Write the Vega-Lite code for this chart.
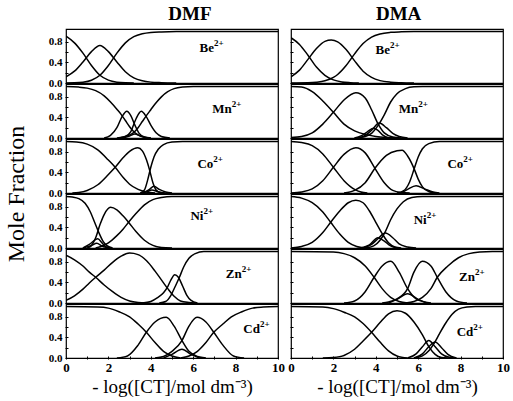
{
"$schema":"https://vega.github.io/schema/vega-lite/v6.json",
"padding":{"left":4,"top":5,"right":5,"bottom":3},
"data":{"values":[
{"s":"DMF","m":"Be","k":"a","x":0,"y":0.91},{"s":"DMF","m":"Be","k":"a","x":0.4,"y":0.78},{"s":"DMF","m":"Be","k":"a","x":0.8,"y":0.58},{"s":"DMF","m":"Be","k":"a","x":1.2,"y":0.34},{"s":"DMF","m":"Be","k":"a","x":1.6,"y":0.15},{"s":"DMF","m":"Be","k":"a","x":2.0,"y":0.055},{"s":"DMF","m":"Be","k":"a","x":2.4,"y":0.015},{"s":"DMF","m":"Be","k":"a","x":2.8,"y":0.003},{"s":"DMF","m":"Be","k":"a","x":3.2,"y":0},
{"s":"DMF","m":"Be","k":"b","x":0,"y":0.12},{"s":"DMF","m":"Be","k":"b","x":0.4,"y":0.23},{"s":"DMF","m":"Be","k":"b","x":0.8,"y":0.41},{"s":"DMF","m":"Be","k":"b","x":1.2,"y":0.61},{"s":"DMF","m":"Be","k":"b","x":1.6,"y":0.73},{"s":"DMF","m":"Be","k":"b","x":2.0,"y":0.61},{"s":"DMF","m":"Be","k":"b","x":2.4,"y":0.41},{"s":"DMF","m":"Be","k":"b","x":2.8,"y":0.22},{"s":"DMF","m":"Be","k":"b","x":3.2,"y":0.1},{"s":"DMF","m":"Be","k":"b","x":3.6,"y":0.043},{"s":"DMF","m":"Be","k":"b","x":4.0,"y":0.017},{"s":"DMF","m":"Be","k":"b","x":4.5,"y":0.006},{"s":"DMF","m":"Be","k":"b","x":5.2,"y":0},
{"s":"DMF","m":"Be","k":"c","x":0,"y":0},{"s":"DMF","m":"Be","k":"c","x":0.4,"y":0.003},{"s":"DMF","m":"Be","k":"c","x":0.8,"y":0.015},{"s":"DMF","m":"Be","k":"c","x":1.2,"y":0.054},{"s":"DMF","m":"Be","k":"c","x":1.6,"y":0.15},{"s":"DMF","m":"Be","k":"c","x":2.0,"y":0.34},{"s":"DMF","m":"Be","k":"c","x":2.4,"y":0.58},{"s":"DMF","m":"Be","k":"c","x":2.8,"y":0.78},{"s":"DMF","m":"Be","k":"c","x":3.2,"y":0.9},{"s":"DMF","m":"Be","k":"c","x":3.6,"y":0.957},{"s":"DMF","m":"Be","k":"c","x":4.0,"y":0.983},{"s":"DMF","m":"Be","k":"c","x":4.5,"y":0.994},{"s":"DMF","m":"Be","k":"c","x":5.2,"y":1},{"s":"DMF","m":"Be","k":"c","x":10,"y":1},
{"s":"DMF","m":"Be","k":"L","x":6.98,"y":0.68},
{"s":"DMA","m":"Be","k":"a","x":0,"y":0.88},{"s":"DMA","m":"Be","k":"a","x":0.4,"y":0.75},{"s":"DMA","m":"Be","k":"a","x":0.8,"y":0.54},{"s":"DMA","m":"Be","k":"a","x":1.2,"y":0.31},{"s":"DMA","m":"Be","k":"a","x":1.6,"y":0.15},{"s":"DMA","m":"Be","k":"a","x":2.0,"y":0.06},{"s":"DMA","m":"Be","k":"a","x":2.4,"y":0.02},{"s":"DMA","m":"Be","k":"a","x":2.8,"y":0.006},{"s":"DMA","m":"Be","k":"a","x":3.2,"y":0},
{"s":"DMA","m":"Be","k":"b","x":0,"y":0.12},{"s":"DMA","m":"Be","k":"b","x":0.4,"y":0.25},{"s":"DMA","m":"Be","k":"b","x":0.8,"y":0.46},{"s":"DMA","m":"Be","k":"b","x":1.2,"y":0.67},{"s":"DMA","m":"Be","k":"b","x":1.6,"y":0.81},{"s":"DMA","m":"Be","k":"b","x":1.9,"y":0.835},{"s":"DMA","m":"Be","k":"b","x":2.2,"y":0.8},{"s":"DMA","m":"Be","k":"b","x":2.6,"y":0.65},{"s":"DMA","m":"Be","k":"b","x":3.0,"y":0.43},{"s":"DMA","m":"Be","k":"b","x":3.4,"y":0.23},{"s":"DMA","m":"Be","k":"b","x":3.8,"y":0.11},{"s":"DMA","m":"Be","k":"b","x":4.2,"y":0.046},{"s":"DMA","m":"Be","k":"b","x":4.7,"y":0.015},{"s":"DMA","m":"Be","k":"b","x":5.2,"y":0.005},{"s":"DMA","m":"Be","k":"b","x":5.8,"y":0},
{"s":"DMA","m":"Be","k":"c","x":0,"y":0},{"s":"DMA","m":"Be","k":"c","x":0.8,"y":0.004},{"s":"DMA","m":"Be","k":"c","x":1.2,"y":0.014},{"s":"DMA","m":"Be","k":"c","x":1.6,"y":0.042},{"s":"DMA","m":"Be","k":"c","x":2.0,"y":0.11},{"s":"DMA","m":"Be","k":"c","x":2.2,"y":0.166},{"s":"DMA","m":"Be","k":"c","x":2.6,"y":0.34},{"s":"DMA","m":"Be","k":"c","x":3.0,"y":0.567},{"s":"DMA","m":"Be","k":"c","x":3.4,"y":0.767},{"s":"DMA","m":"Be","k":"c","x":3.8,"y":0.893},{"s":"DMA","m":"Be","k":"c","x":4.2,"y":0.954},{"s":"DMA","m":"Be","k":"c","x":4.7,"y":0.985},{"s":"DMA","m":"Be","k":"c","x":5.2,"y":0.995},{"s":"DMA","m":"Be","k":"c","x":5.8,"y":1},{"s":"DMA","m":"Be","k":"c","x":10,"y":1},
{"s":"DMA","m":"Be","k":"L","x":4.67,"y":0.64},
{"s":"DMF","m":"Mn","k":"a","x":0,"y":1},{"s":"DMF","m":"Mn","k":"a","x":0.6,"y":0.99},{"s":"DMF","m":"Mn","k":"a","x":1.0,"y":0.97},{"s":"DMF","m":"Mn","k":"a","x":1.4,"y":0.92},{"s":"DMF","m":"Mn","k":"a","x":1.8,"y":0.82},{"s":"DMF","m":"Mn","k":"a","x":2.1,"y":0.7},{"s":"DMF","m":"Mn","k":"a","x":2.4,"y":0.56},{"s":"DMF","m":"Mn","k":"a","x":2.6,"y":0.46},{"s":"DMF","m":"Mn","k":"a","x":2.8,"y":0.34},{"s":"DMF","m":"Mn","k":"a","x":3.0,"y":0.22},{"s":"DMF","m":"Mn","k":"a","x":3.2,"y":0.12},{"s":"DMF","m":"Mn","k":"a","x":3.4,"y":0.06},{"s":"DMF","m":"Mn","k":"a","x":3.7,"y":0.015},{"s":"DMF","m":"Mn","k":"a","x":4.0,"y":0},
{"s":"DMF","m":"Mn","k":"b","x":1.8,"y":0},{"s":"DMF","m":"Mn","k":"b","x":2.1,"y":0.05},{"s":"DMF","m":"Mn","k":"b","x":2.4,"y":0.2},{"s":"DMF","m":"Mn","k":"b","x":2.65,"y":0.42},{"s":"DMF","m":"Mn","k":"b","x":2.87,"y":0.52},{"s":"DMF","m":"Mn","k":"b","x":3.05,"y":0.44},{"s":"DMF","m":"Mn","k":"b","x":3.25,"y":0.25},{"s":"DMF","m":"Mn","k":"b","x":3.45,"y":0.09},{"s":"DMF","m":"Mn","k":"b","x":3.7,"y":0.02},{"s":"DMF","m":"Mn","k":"b","x":4.0,"y":0},
{"s":"DMF","m":"Mn","k":"c","x":2.5,"y":0},{"s":"DMF","m":"Mn","k":"c","x":2.8,"y":0.03},{"s":"DMF","m":"Mn","k":"c","x":3.05,"y":0.12},{"s":"DMF","m":"Mn","k":"c","x":3.3,"y":0.37},{"s":"DMF","m":"Mn","k":"c","x":3.55,"y":0.52},{"s":"DMF","m":"Mn","k":"c","x":3.78,"y":0.42},{"s":"DMF","m":"Mn","k":"c","x":4.0,"y":0.25},{"s":"DMF","m":"Mn","k":"c","x":4.25,"y":0.1},{"s":"DMF","m":"Mn","k":"c","x":4.5,"y":0.03},{"s":"DMF","m":"Mn","k":"c","x":4.9,"y":0},
{"s":"DMF","m":"Mn","k":"d","x":2.4,"y":0},{"s":"DMF","m":"Mn","k":"d","x":2.7,"y":0.02},{"s":"DMF","m":"Mn","k":"d","x":3.0,"y":0.06},{"s":"DMF","m":"Mn","k":"d","x":3.2,"y":0.11},{"s":"DMF","m":"Mn","k":"d","x":3.4,"y":0.2},{"s":"DMF","m":"Mn","k":"d","x":3.6,"y":0.32},{"s":"DMF","m":"Mn","k":"d","x":3.8,"y":0.44},{"s":"DMF","m":"Mn","k":"d","x":4.0,"y":0.55},{"s":"DMF","m":"Mn","k":"d","x":4.2,"y":0.66},{"s":"DMF","m":"Mn","k":"d","x":4.5,"y":0.8},{"s":"DMF","m":"Mn","k":"d","x":4.8,"y":0.9},{"s":"DMF","m":"Mn","k":"d","x":5.1,"y":0.96},{"s":"DMF","m":"Mn","k":"d","x":5.5,"y":0.99},{"s":"DMF","m":"Mn","k":"d","x":6.0,"y":1},{"s":"DMF","m":"Mn","k":"d","x":10,"y":1},
{"s":"DMF","m":"Mn","k":"e","x":2.7,"y":0},{"s":"DMF","m":"Mn","k":"e","x":3.0,"y":0.04},{"s":"DMF","m":"Mn","k":"e","x":3.25,"y":0.08},{"s":"DMF","m":"Mn","k":"e","x":3.5,"y":0.04},{"s":"DMF","m":"Mn","k":"e","x":3.8,"y":0},
{"s":"DMF","m":"Mn","k":"L","x":7.82,"y":0.57},
{"s":"DMA","m":"Mn","k":"a","x":0,"y":1},{"s":"DMA","m":"Mn","k":"a","x":0.5,"y":0.99},{"s":"DMA","m":"Mn","k":"a","x":1.0,"y":0.9},{"s":"DMA","m":"Mn","k":"a","x":1.5,"y":0.72},{"s":"DMA","m":"Mn","k":"a","x":2.0,"y":0.5},{"s":"DMA","m":"Mn","k":"a","x":2.5,"y":0.27},{"s":"DMA","m":"Mn","k":"a","x":3.0,"y":0.14},{"s":"DMA","m":"Mn","k":"a","x":3.5,"y":0.07},{"s":"DMA","m":"Mn","k":"a","x":4.0,"y":0.03},{"s":"DMA","m":"Mn","k":"a","x":4.5,"y":0.01},{"s":"DMA","m":"Mn","k":"a","x":5.0,"y":0},
{"s":"DMA","m":"Mn","k":"b","x":0,"y":0.01},{"s":"DMA","m":"Mn","k":"b","x":0.5,"y":0.03},{"s":"DMA","m":"Mn","k":"b","x":1.0,"y":0.1},{"s":"DMA","m":"Mn","k":"b","x":1.5,"y":0.27},{"s":"DMA","m":"Mn","k":"b","x":2.0,"y":0.5},{"s":"DMA","m":"Mn","k":"b","x":2.5,"y":0.74},{"s":"DMA","m":"Mn","k":"b","x":3.06,"y":0.88},{"s":"DMA","m":"Mn","k":"b","x":3.5,"y":0.78},{"s":"DMA","m":"Mn","k":"b","x":3.8,"y":0.55},{"s":"DMA","m":"Mn","k":"b","x":4.1,"y":0.28},{"s":"DMA","m":"Mn","k":"b","x":4.4,"y":0.1},{"s":"DMA","m":"Mn","k":"b","x":4.8,"y":0.02},{"s":"DMA","m":"Mn","k":"b","x":5.2,"y":0},
{"s":"DMA","m":"Mn","k":"c","x":3.0,"y":0},{"s":"DMA","m":"Mn","k":"c","x":3.5,"y":0.03},{"s":"DMA","m":"Mn","k":"c","x":3.8,"y":0.09},{"s":"DMA","m":"Mn","k":"c","x":4.1,"y":0.24},{"s":"DMA","m":"Mn","k":"c","x":4.4,"y":0.45},{"s":"DMA","m":"Mn","k":"c","x":4.7,"y":0.7},{"s":"DMA","m":"Mn","k":"c","x":5.0,"y":0.86},{"s":"DMA","m":"Mn","k":"c","x":5.4,"y":0.96},{"s":"DMA","m":"Mn","k":"c","x":5.8,"y":0.995},{"s":"DMA","m":"Mn","k":"c","x":6.2,"y":1},{"s":"DMA","m":"Mn","k":"c","x":10,"y":1},
{"s":"DMA","m":"Mn","k":"d","x":3.2,"y":0},{"s":"DMA","m":"Mn","k":"d","x":3.5,"y":0.05},{"s":"DMA","m":"Mn","k":"d","x":3.8,"y":0.15},{"s":"DMA","m":"Mn","k":"d","x":4.16,"y":0.29},{"s":"DMA","m":"Mn","k":"d","x":4.5,"y":0.2},{"s":"DMA","m":"Mn","k":"d","x":4.8,"y":0.09},{"s":"DMA","m":"Mn","k":"d","x":5.1,"y":0.03},{"s":"DMA","m":"Mn","k":"d","x":5.5,"y":0},
{"s":"DMA","m":"Mn","k":"e","x":3.0,"y":0},{"s":"DMA","m":"Mn","k":"e","x":3.3,"y":0.04},{"s":"DMA","m":"Mn","k":"e","x":3.6,"y":0.12},{"s":"DMA","m":"Mn","k":"e","x":3.9,"y":0.19},{"s":"DMA","m":"Mn","k":"e","x":4.1,"y":0.15},{"s":"DMA","m":"Mn","k":"e","x":4.35,"y":0.05},{"s":"DMA","m":"Mn","k":"e","x":4.6,"y":0},
{"s":"DMA","m":"Mn","k":"L","x":6.0,"y":0.57},
{"s":"DMF","m":"Co","k":"a","x":0,"y":1},{"s":"DMF","m":"Co","k":"a","x":0.5,"y":0.99},{"s":"DMF","m":"Co","k":"a","x":1.0,"y":0.95},{"s":"DMF","m":"Co","k":"a","x":1.5,"y":0.84},{"s":"DMF","m":"Co","k":"a","x":2.0,"y":0.64},{"s":"DMF","m":"Co","k":"a","x":2.32,"y":0.5},{"s":"DMF","m":"Co","k":"a","x":2.7,"y":0.3},{"s":"DMF","m":"Co","k":"a","x":3.0,"y":0.17},{"s":"DMF","m":"Co","k":"a","x":3.4,"y":0.07},{"s":"DMF","m":"Co","k":"a","x":3.8,"y":0.02},{"s":"DMF","m":"Co","k":"a","x":4.2,"y":0},
{"s":"DMF","m":"Co","k":"b","x":0.3,"y":0},{"s":"DMF","m":"Co","k":"b","x":0.6,"y":0.01},{"s":"DMF","m":"Co","k":"b","x":1.0,"y":0.05},{"s":"DMF","m":"Co","k":"b","x":1.5,"y":0.16},{"s":"DMF","m":"Co","k":"b","x":2.0,"y":0.36},{"s":"DMF","m":"Co","k":"b","x":2.32,"y":0.5},{"s":"DMF","m":"Co","k":"b","x":2.7,"y":0.69},{"s":"DMF","m":"Co","k":"b","x":3.0,"y":0.81},{"s":"DMF","m":"Co","k":"b","x":3.39,"y":0.88},{"s":"DMF","m":"Co","k":"b","x":3.6,"y":0.82},{"s":"DMF","m":"Co","k":"b","x":3.8,"y":0.64},{"s":"DMF","m":"Co","k":"b","x":3.94,"y":0.45},{"s":"DMF","m":"Co","k":"b","x":4.1,"y":0.2},{"s":"DMF","m":"Co","k":"b","x":4.25,"y":0.06},{"s":"DMF","m":"Co","k":"b","x":4.45,"y":0.01},{"s":"DMF","m":"Co","k":"b","x":4.7,"y":0},
{"s":"DMF","m":"Co","k":"c","x":3.5,"y":0},{"s":"DMF","m":"Co","k":"c","x":3.7,"y":0.06},{"s":"DMF","m":"Co","k":"c","x":3.85,"y":0.25},{"s":"DMF","m":"Co","k":"c","x":4.0,"y":0.5},{"s":"DMF","m":"Co","k":"c","x":4.15,"y":0.7},{"s":"DMF","m":"Co","k":"c","x":4.35,"y":0.85},{"s":"DMF","m":"Co","k":"c","x":4.6,"y":0.94},{"s":"DMF","m":"Co","k":"c","x":5.0,"y":0.99},{"s":"DMF","m":"Co","k":"c","x":5.5,"y":1},{"s":"DMF","m":"Co","k":"c","x":10,"y":1},
{"s":"DMF","m":"Co","k":"d","x":3.6,"y":0},{"s":"DMF","m":"Co","k":"d","x":3.9,"y":0.06},{"s":"DMF","m":"Co","k":"d","x":4.15,"y":0.13},{"s":"DMF","m":"Co","k":"d","x":4.4,"y":0.07},{"s":"DMF","m":"Co","k":"d","x":4.7,"y":0.02},{"s":"DMF","m":"Co","k":"d","x":5.0,"y":0},
{"s":"DMF","m":"Co","k":"e","x":3.6,"y":0},{"s":"DMF","m":"Co","k":"e","x":3.85,"y":0.03},{"s":"DMF","m":"Co","k":"e","x":4.05,"y":0.06},{"s":"DMF","m":"Co","k":"e","x":4.3,"y":0.03},{"s":"DMF","m":"Co","k":"e","x":4.6,"y":0},
{"s":"DMF","m":"Co","k":"L","x":6.95,"y":0.57},
{"s":"DMA","m":"Co","k":"a","x":0,"y":1},{"s":"DMA","m":"Co","k":"a","x":0.5,"y":0.98},{"s":"DMA","m":"Co","k":"a","x":1.0,"y":0.92},{"s":"DMA","m":"Co","k":"a","x":1.5,"y":0.76},{"s":"DMA","m":"Co","k":"a","x":2.0,"y":0.5},{"s":"DMA","m":"Co","k":"a","x":2.5,"y":0.24},{"s":"DMA","m":"Co","k":"a","x":3.0,"y":0.07},{"s":"DMA","m":"Co","k":"a","x":3.3,"y":0.02},{"s":"DMA","m":"Co","k":"a","x":3.6,"y":0},
{"s":"DMA","m":"Co","k":"b","x":0,"y":0},{"s":"DMA","m":"Co","k":"b","x":0.5,"y":0.02},{"s":"DMA","m":"Co","k":"b","x":1.0,"y":0.08},{"s":"DMA","m":"Co","k":"b","x":1.5,"y":0.24},{"s":"DMA","m":"Co","k":"b","x":2.0,"y":0.5},{"s":"DMA","m":"Co","k":"b","x":2.5,"y":0.75},{"s":"DMA","m":"Co","k":"b","x":3.06,"y":0.88},{"s":"DMA","m":"Co","k":"b","x":3.5,"y":0.78},{"s":"DMA","m":"Co","k":"b","x":3.96,"y":0.48},{"s":"DMA","m":"Co","k":"b","x":4.4,"y":0.2},{"s":"DMA","m":"Co","k":"b","x":4.8,"y":0.05},{"s":"DMA","m":"Co","k":"b","x":5.2,"y":0.01},{"s":"DMA","m":"Co","k":"b","x":5.6,"y":0},
{"s":"DMA","m":"Co","k":"c","x":2.5,"y":0},{"s":"DMA","m":"Co","k":"c","x":3.0,"y":0.05},{"s":"DMA","m":"Co","k":"c","x":3.5,"y":0.2},{"s":"DMA","m":"Co","k":"c","x":3.96,"y":0.48},{"s":"DMA","m":"Co","k":"c","x":4.5,"y":0.73},{"s":"DMA","m":"Co","k":"c","x":5.0,"y":0.82},{"s":"DMA","m":"Co","k":"c","x":5.24,"y":0.83},{"s":"DMA","m":"Co","k":"c","x":5.5,"y":0.72},{"s":"DMA","m":"Co","k":"c","x":5.81,"y":0.47},{"s":"DMA","m":"Co","k":"c","x":6.0,"y":0.27},{"s":"DMA","m":"Co","k":"c","x":6.2,"y":0.12},{"s":"DMA","m":"Co","k":"c","x":6.5,"y":0.03},{"s":"DMA","m":"Co","k":"c","x":6.8,"y":0},
{"s":"DMA","m":"Co","k":"d","x":5.0,"y":0},{"s":"DMA","m":"Co","k":"d","x":5.3,"y":0.04},{"s":"DMA","m":"Co","k":"d","x":5.6,"y":0.22},{"s":"DMA","m":"Co","k":"d","x":5.81,"y":0.47},{"s":"DMA","m":"Co","k":"d","x":6.0,"y":0.7},{"s":"DMA","m":"Co","k":"d","x":6.2,"y":0.86},{"s":"DMA","m":"Co","k":"d","x":6.5,"y":0.96},{"s":"DMA","m":"Co","k":"d","x":7.0,"y":1},{"s":"DMA","m":"Co","k":"d","x":10,"y":1},
{"s":"DMA","m":"Co","k":"e","x":5.2,"y":0},{"s":"DMA","m":"Co","k":"e","x":5.5,"y":0.07},{"s":"DMA","m":"Co","k":"e","x":5.9,"y":0.14},{"s":"DMA","m":"Co","k":"e","x":6.3,"y":0.08},{"s":"DMA","m":"Co","k":"e","x":6.7,"y":0.02},{"s":"DMA","m":"Co","k":"e","x":7.0,"y":0},
{"s":"DMA","m":"Co","k":"L","x":8.13,"y":0.57},
{"s":"DMF","m":"Ni","k":"a","x":0,"y":1},{"s":"DMF","m":"Ni","k":"a","x":0.3,"y":0.99},{"s":"DMF","m":"Ni","k":"a","x":0.6,"y":0.96},{"s":"DMF","m":"Ni","k":"a","x":0.9,"y":0.87},{"s":"DMF","m":"Ni","k":"a","x":1.15,"y":0.7},{"s":"DMF","m":"Ni","k":"a","x":1.35,"y":0.5},{"s":"DMF","m":"Ni","k":"a","x":1.55,"y":0.3},{"s":"DMF","m":"Ni","k":"a","x":1.75,"y":0.13},{"s":"DMF","m":"Ni","k":"a","x":1.95,"y":0.04},{"s":"DMF","m":"Ni","k":"a","x":2.2,"y":0},
{"s":"DMF","m":"Ni","k":"b","x":1.0,"y":0},{"s":"DMF","m":"Ni","k":"b","x":1.2,"y":0.05},{"s":"DMF","m":"Ni","k":"b","x":1.4,"y":0.2},{"s":"DMF","m":"Ni","k":"b","x":1.6,"y":0.45},{"s":"DMF","m":"Ni","k":"b","x":1.8,"y":0.65},{"s":"DMF","m":"Ni","k":"b","x":2.1,"y":0.79},{"s":"DMF","m":"Ni","k":"b","x":2.4,"y":0.74},{"s":"DMF","m":"Ni","k":"b","x":2.7,"y":0.62},{"s":"DMF","m":"Ni","k":"b","x":2.95,"y":0.5},{"s":"DMF","m":"Ni","k":"b","x":3.3,"y":0.32},{"s":"DMF","m":"Ni","k":"b","x":3.7,"y":0.15},{"s":"DMF","m":"Ni","k":"b","x":4.1,"y":0.05},{"s":"DMF","m":"Ni","k":"b","x":4.5,"y":0.01},{"s":"DMF","m":"Ni","k":"b","x":5.0,"y":0},
{"s":"DMF","m":"Ni","k":"c","x":1.4,"y":0},{"s":"DMF","m":"Ni","k":"c","x":1.7,"y":0.04},{"s":"DMF","m":"Ni","k":"c","x":2.0,"y":0.1},{"s":"DMF","m":"Ni","k":"c","x":2.4,"y":0.24},{"s":"DMF","m":"Ni","k":"c","x":2.7,"y":0.37},{"s":"DMF","m":"Ni","k":"c","x":2.95,"y":0.5},{"s":"DMF","m":"Ni","k":"c","x":3.3,"y":0.67},{"s":"DMF","m":"Ni","k":"c","x":3.7,"y":0.84},{"s":"DMF","m":"Ni","k":"c","x":4.1,"y":0.94},{"s":"DMF","m":"Ni","k":"c","x":4.5,"y":0.98},{"s":"DMF","m":"Ni","k":"c","x":5.0,"y":1},{"s":"DMF","m":"Ni","k":"c","x":10,"y":1},
{"s":"DMF","m":"Ni","k":"d","x":0.8,"y":0},{"s":"DMF","m":"Ni","k":"d","x":1.1,"y":0.07},{"s":"DMF","m":"Ni","k":"d","x":1.5,"y":0.18},{"s":"DMF","m":"Ni","k":"d","x":1.7,"y":0.1},{"s":"DMF","m":"Ni","k":"d","x":1.9,"y":0.02},{"s":"DMF","m":"Ni","k":"d","x":2.1,"y":0},
{"s":"DMF","m":"Ni","k":"e","x":0.8,"y":0},{"s":"DMF","m":"Ni","k":"e","x":1.2,"y":0.05},{"s":"DMF","m":"Ni","k":"e","x":1.45,"y":0.09},{"s":"DMF","m":"Ni","k":"e","x":1.7,"y":0.04},{"s":"DMF","m":"Ni","k":"e","x":2.0,"y":0},
{"s":"DMF","m":"Ni","k":"L","x":6.48,"y":0.63},
{"s":"DMA","m":"Ni","k":"a","x":0,"y":1},{"s":"DMA","m":"Ni","k":"a","x":0.5,"y":0.97},{"s":"DMA","m":"Ni","k":"a","x":1.0,"y":0.88},{"s":"DMA","m":"Ni","k":"a","x":1.5,"y":0.7},{"s":"DMA","m":"Ni","k":"a","x":1.87,"y":0.5},{"s":"DMA","m":"Ni","k":"a","x":2.3,"y":0.27},{"s":"DMA","m":"Ni","k":"a","x":2.7,"y":0.11},{"s":"DMA","m":"Ni","k":"a","x":3.1,"y":0.03},{"s":"DMA","m":"Ni","k":"a","x":3.5,"y":0},
{"s":"DMA","m":"Ni","k":"b","x":0,"y":0},{"s":"DMA","m":"Ni","k":"b","x":0.5,"y":0.03},{"s":"DMA","m":"Ni","k":"b","x":1.0,"y":0.11},{"s":"DMA","m":"Ni","k":"b","x":1.5,"y":0.3},{"s":"DMA","m":"Ni","k":"b","x":1.87,"y":0.5},{"s":"DMA","m":"Ni","k":"b","x":2.3,"y":0.72},{"s":"DMA","m":"Ni","k":"b","x":2.7,"y":0.88},{"s":"DMA","m":"Ni","k":"b","x":3.06,"y":0.93},{"s":"DMA","m":"Ni","k":"b","x":3.4,"y":0.88},{"s":"DMA","m":"Ni","k":"b","x":3.7,"y":0.72},{"s":"DMA","m":"Ni","k":"b","x":4.0,"y":0.5},{"s":"DMA","m":"Ni","k":"b","x":4.3,"y":0.28},{"s":"DMA","m":"Ni","k":"b","x":4.6,"y":0.1},{"s":"DMA","m":"Ni","k":"b","x":4.9,"y":0.02},{"s":"DMA","m":"Ni","k":"b","x":5.2,"y":0},
{"s":"DMA","m":"Ni","k":"c","x":3.5,"y":0},{"s":"DMA","m":"Ni","k":"c","x":3.9,"y":0.04},{"s":"DMA","m":"Ni","k":"c","x":4.2,"y":0.15},{"s":"DMA","m":"Ni","k":"c","x":4.45,"y":0.32},{"s":"DMA","m":"Ni","k":"c","x":4.7,"y":0.55},{"s":"DMA","m":"Ni","k":"c","x":5.0,"y":0.76},{"s":"DMA","m":"Ni","k":"c","x":5.3,"y":0.9},{"s":"DMA","m":"Ni","k":"c","x":5.7,"y":0.98},{"s":"DMA","m":"Ni","k":"c","x":6.2,"y":1},{"s":"DMA","m":"Ni","k":"c","x":10,"y":1},
{"s":"DMA","m":"Ni","k":"d","x":3.4,"y":0},{"s":"DMA","m":"Ni","k":"d","x":3.8,"y":0.07},{"s":"DMA","m":"Ni","k":"d","x":4.1,"y":0.18},{"s":"DMA","m":"Ni","k":"d","x":4.45,"y":0.29},{"s":"DMA","m":"Ni","k":"d","x":4.8,"y":0.2},{"s":"DMA","m":"Ni","k":"d","x":5.1,"y":0.08},{"s":"DMA","m":"Ni","k":"d","x":5.5,"y":0.02},{"s":"DMA","m":"Ni","k":"d","x":5.9,"y":0},
{"s":"DMA","m":"Ni","k":"e","x":3.3,"y":0},{"s":"DMA","m":"Ni","k":"e","x":3.7,"y":0.06},{"s":"DMA","m":"Ni","k":"e","x":4.1,"y":0.2},{"s":"DMA","m":"Ni","k":"e","x":4.35,"y":0.15},{"s":"DMA","m":"Ni","k":"e","x":4.7,"y":0.04},{"s":"DMA","m":"Ni","k":"e","x":5.0,"y":0},
{"s":"DMA","m":"Ni","k":"L","x":6.4,"y":0.55},
{"s":"DMF","m":"Zn","k":"a","x":0,"y":0.93},{"s":"DMF","m":"Zn","k":"a","x":0.4,"y":0.84},{"s":"DMF","m":"Zn","k":"a","x":0.8,"y":0.72},{"s":"DMF","m":"Zn","k":"a","x":1.1,"y":0.6},{"s":"DMF","m":"Zn","k":"a","x":1.4,"y":0.5},{"s":"DMF","m":"Zn","k":"a","x":1.8,"y":0.35},{"s":"DMF","m":"Zn","k":"a","x":2.2,"y":0.22},{"s":"DMF","m":"Zn","k":"a","x":2.6,"y":0.11},{"s":"DMF","m":"Zn","k":"a","x":3.0,"y":0.04},{"s":"DMF","m":"Zn","k":"a","x":3.4,"y":0.01},{"s":"DMF","m":"Zn","k":"a","x":3.8,"y":0},
{"s":"DMF","m":"Zn","k":"b","x":0,"y":0.05},{"s":"DMF","m":"Zn","k":"b","x":0.4,"y":0.14},{"s":"DMF","m":"Zn","k":"b","x":0.8,"y":0.27},{"s":"DMF","m":"Zn","k":"b","x":1.1,"y":0.39},{"s":"DMF","m":"Zn","k":"b","x":1.4,"y":0.5},{"s":"DMF","m":"Zn","k":"b","x":1.8,"y":0.64},{"s":"DMF","m":"Zn","k":"b","x":2.2,"y":0.79},{"s":"DMF","m":"Zn","k":"b","x":2.6,"y":0.91},{"s":"DMF","m":"Zn","k":"b","x":3.0,"y":0.97},{"s":"DMF","m":"Zn","k":"b","x":3.4,"y":0.94},{"s":"DMF","m":"Zn","k":"b","x":3.8,"y":0.82},{"s":"DMF","m":"Zn","k":"b","x":4.2,"y":0.62},{"s":"DMF","m":"Zn","k":"b","x":4.5,"y":0.45},{"s":"DMF","m":"Zn","k":"b","x":4.8,"y":0.28},{"s":"DMF","m":"Zn","k":"b","x":5.1,"y":0.13},{"s":"DMF","m":"Zn","k":"b","x":5.4,"y":0.04},{"s":"DMF","m":"Zn","k":"b","x":5.8,"y":0.01},{"s":"DMF","m":"Zn","k":"b","x":6.1,"y":0},
{"s":"DMF","m":"Zn","k":"c","x":3.6,"y":0},{"s":"DMF","m":"Zn","k":"c","x":4.0,"y":0.03},{"s":"DMF","m":"Zn","k":"c","x":4.3,"y":0.1},{"s":"DMF","m":"Zn","k":"c","x":4.6,"y":0.2},{"s":"DMF","m":"Zn","k":"c","x":4.8,"y":0.32},{"s":"DMF","m":"Zn","k":"c","x":4.95,"y":0.45},{"s":"DMF","m":"Zn","k":"c","x":5.13,"y":0.55},{"s":"DMF","m":"Zn","k":"c","x":5.3,"y":0.5},{"s":"DMF","m":"Zn","k":"c","x":5.5,"y":0.33},{"s":"DMF","m":"Zn","k":"c","x":5.7,"y":0.15},{"s":"DMF","m":"Zn","k":"c","x":5.9,"y":0.05},{"s":"DMF","m":"Zn","k":"c","x":6.2,"y":0},
{"s":"DMF","m":"Zn","k":"d","x":4.4,"y":0},{"s":"DMF","m":"Zn","k":"d","x":4.7,"y":0.03},{"s":"DMF","m":"Zn","k":"d","x":4.95,"y":0.15},{"s":"DMF","m":"Zn","k":"d","x":5.15,"y":0.32},{"s":"DMF","m":"Zn","k":"d","x":5.35,"y":0.5},{"s":"DMF","m":"Zn","k":"d","x":5.55,"y":0.7},{"s":"DMF","m":"Zn","k":"d","x":5.8,"y":0.87},{"s":"DMF","m":"Zn","k":"d","x":6.1,"y":0.96},{"s":"DMF","m":"Zn","k":"d","x":6.5,"y":1},{"s":"DMF","m":"Zn","k":"d","x":10,"y":1},
{"s":"DMF","m":"Zn","k":"L","x":8.29,"y":0.57},
{"s":"DMA","m":"Zn","k":"a","x":0,"y":1},{"s":"DMA","m":"Zn","k":"a","x":2.0,"y":0.99},{"s":"DMA","m":"Zn","k":"a","x":2.5,"y":0.96},{"s":"DMA","m":"Zn","k":"a","x":3.0,"y":0.88},{"s":"DMA","m":"Zn","k":"a","x":3.5,"y":0.72},{"s":"DMA","m":"Zn","k":"a","x":3.92,"y":0.5},{"s":"DMA","m":"Zn","k":"a","x":4.3,"y":0.28},{"s":"DMA","m":"Zn","k":"a","x":4.7,"y":0.11},{"s":"DMA","m":"Zn","k":"a","x":5.1,"y":0.03},{"s":"DMA","m":"Zn","k":"a","x":5.5,"y":0},
{"s":"DMA","m":"Zn","k":"b","x":2.5,"y":0},{"s":"DMA","m":"Zn","k":"b","x":3.0,"y":0.04},{"s":"DMA","m":"Zn","k":"b","x":3.5,"y":0.22},{"s":"DMA","m":"Zn","k":"b","x":3.92,"y":0.5},{"s":"DMA","m":"Zn","k":"b","x":4.3,"y":0.72},{"s":"DMA","m":"Zn","k":"b","x":4.71,"y":0.81},{"s":"DMA","m":"Zn","k":"b","x":5.1,"y":0.6},{"s":"DMA","m":"Zn","k":"b","x":5.5,"y":0.28},{"s":"DMA","m":"Zn","k":"b","x":5.9,"y":0.08},{"s":"DMA","m":"Zn","k":"b","x":6.3,"y":0.02},{"s":"DMA","m":"Zn","k":"b","x":6.6,"y":0},
{"s":"DMA","m":"Zn","k":"c","x":4.3,"y":0},{"s":"DMA","m":"Zn","k":"c","x":4.6,"y":0.02},{"s":"DMA","m":"Zn","k":"c","x":5.0,"y":0.08},{"s":"DMA","m":"Zn","k":"c","x":5.5,"y":0.28},{"s":"DMA","m":"Zn","k":"c","x":5.8,"y":0.6},{"s":"DMA","m":"Zn","k":"c","x":6.19,"y":0.81},{"s":"DMA","m":"Zn","k":"c","x":6.6,"y":0.72},{"s":"DMA","m":"Zn","k":"c","x":6.9,"y":0.5},{"s":"DMA","m":"Zn","k":"c","x":7.3,"y":0.22},{"s":"DMA","m":"Zn","k":"c","x":7.8,"y":0.04},{"s":"DMA","m":"Zn","k":"c","x":8.3,"y":0},
{"s":"DMA","m":"Zn","k":"d","x":5.4,"y":0},{"s":"DMA","m":"Zn","k":"d","x":5.8,"y":0.03},{"s":"DMA","m":"Zn","k":"d","x":6.2,"y":0.11},{"s":"DMA","m":"Zn","k":"d","x":6.6,"y":0.28},{"s":"DMA","m":"Zn","k":"d","x":6.9,"y":0.5},{"s":"DMA","m":"Zn","k":"d","x":7.4,"y":0.72},{"s":"DMA","m":"Zn","k":"d","x":7.9,"y":0.88},{"s":"DMA","m":"Zn","k":"d","x":8.4,"y":0.96},{"s":"DMA","m":"Zn","k":"d","x":8.9,"y":0.99},{"s":"DMA","m":"Zn","k":"d","x":9.5,"y":1},{"s":"DMA","m":"Zn","k":"d","x":10,"y":1},
{"s":"DMA","m":"Zn","k":"e","x":4.6,"y":0},{"s":"DMA","m":"Zn","k":"e","x":5.0,"y":0.07},{"s":"DMA","m":"Zn","k":"e","x":5.5,"y":0.18},{"s":"DMA","m":"Zn","k":"e","x":6.0,"y":0.07},{"s":"DMA","m":"Zn","k":"e","x":6.4,"y":0},
{"s":"DMA","m":"Zn","k":"L","x":8.68,"y":0.5},
{"s":"DMF","m":"Cd","k":"a","x":0,"y":1},{"s":"DMF","m":"Cd","k":"a","x":1.5,"y":0.99},{"s":"DMF","m":"Cd","k":"a","x":2.0,"y":0.97},{"s":"DMF","m":"Cd","k":"a","x":2.5,"y":0.9},{"s":"DMF","m":"Cd","k":"a","x":3.0,"y":0.8},{"s":"DMF","m":"Cd","k":"a","x":3.4,"y":0.66},{"s":"DMF","m":"Cd","k":"a","x":3.79,"y":0.5},{"s":"DMF","m":"Cd","k":"a","x":4.2,"y":0.3},{"s":"DMF","m":"Cd","k":"a","x":4.6,"y":0.13},{"s":"DMF","m":"Cd","k":"a","x":5.0,"y":0.04},{"s":"DMF","m":"Cd","k":"a","x":5.4,"y":0},
{"s":"DMF","m":"Cd","k":"b","x":2.4,"y":0},{"s":"DMF","m":"Cd","k":"b","x":2.9,"y":0.04},{"s":"DMF","m":"Cd","k":"b","x":3.4,"y":0.25},{"s":"DMF","m":"Cd","k":"b","x":3.79,"y":0.5},{"s":"DMF","m":"Cd","k":"b","x":4.2,"y":0.7},{"s":"DMF","m":"Cd","k":"b","x":4.73,"y":0.79},{"s":"DMF","m":"Cd","k":"b","x":5.1,"y":0.62},{"s":"DMF","m":"Cd","k":"b","x":5.47,"y":0.34},{"s":"DMF","m":"Cd","k":"b","x":5.8,"y":0.13},{"s":"DMF","m":"Cd","k":"b","x":6.2,"y":0.03},{"s":"DMF","m":"Cd","k":"b","x":6.6,"y":0},
{"s":"DMF","m":"Cd","k":"c","x":4.2,"y":0},{"s":"DMF","m":"Cd","k":"c","x":4.6,"y":0.03},{"s":"DMF","m":"Cd","k":"c","x":5.0,"y":0.13},{"s":"DMF","m":"Cd","k":"c","x":5.47,"y":0.34},{"s":"DMF","m":"Cd","k":"c","x":5.8,"y":0.62},{"s":"DMF","m":"Cd","k":"c","x":6.18,"y":0.79},{"s":"DMF","m":"Cd","k":"c","x":6.6,"y":0.7},{"s":"DMF","m":"Cd","k":"c","x":6.97,"y":0.5},{"s":"DMF","m":"Cd","k":"c","x":7.4,"y":0.25},{"s":"DMF","m":"Cd","k":"c","x":7.9,"y":0.04},{"s":"DMF","m":"Cd","k":"c","x":8.4,"y":0},
{"s":"DMF","m":"Cd","k":"d","x":5.4,"y":0},{"s":"DMF","m":"Cd","k":"d","x":5.8,"y":0.04},{"s":"DMF","m":"Cd","k":"d","x":6.2,"y":0.13},{"s":"DMF","m":"Cd","k":"d","x":6.6,"y":0.3},{"s":"DMF","m":"Cd","k":"d","x":6.97,"y":0.5},{"s":"DMF","m":"Cd","k":"d","x":7.4,"y":0.66},{"s":"DMF","m":"Cd","k":"d","x":7.8,"y":0.8},{"s":"DMF","m":"Cd","k":"d","x":8.3,"y":0.9},{"s":"DMF","m":"Cd","k":"d","x":8.8,"y":0.97},{"s":"DMF","m":"Cd","k":"d","x":9.3,"y":0.99},{"s":"DMF","m":"Cd","k":"d","x":10,"y":1},
{"s":"DMF","m":"Cd","k":"e","x":4.6,"y":0},{"s":"DMF","m":"Cd","k":"e","x":5.0,"y":0.07},{"s":"DMF","m":"Cd","k":"e","x":5.47,"y":0.17},{"s":"DMF","m":"Cd","k":"e","x":5.9,"y":0.07},{"s":"DMF","m":"Cd","k":"e","x":6.3,"y":0},
{"s":"DMF","m":"Cd","k":"L","x":9.15,"y":0.57},
{"s":"DMA","m":"Cd","k":"a","x":0,"y":1},{"s":"DMA","m":"Cd","k":"a","x":1.5,"y":0.99},{"s":"DMA","m":"Cd","k":"a","x":2.0,"y":0.96},{"s":"DMA","m":"Cd","k":"a","x":2.5,"y":0.89},{"s":"DMA","m":"Cd","k":"a","x":3.0,"y":0.8},{"s":"DMA","m":"Cd","k":"a","x":3.4,"y":0.67},{"s":"DMA","m":"Cd","k":"a","x":3.8,"y":0.5},{"s":"DMA","m":"Cd","k":"a","x":4.2,"y":0.31},{"s":"DMA","m":"Cd","k":"a","x":4.6,"y":0.14},{"s":"DMA","m":"Cd","k":"a","x":5.0,"y":0.04},{"s":"DMA","m":"Cd","k":"a","x":5.5,"y":0},
{"s":"DMA","m":"Cd","k":"b","x":1.5,"y":0},{"s":"DMA","m":"Cd","k":"b","x":2.0,"y":0.01},{"s":"DMA","m":"Cd","k":"b","x":2.5,"y":0.05},{"s":"DMA","m":"Cd","k":"b","x":3.0,"y":0.17},{"s":"DMA","m":"Cd","k":"b","x":3.4,"y":0.33},{"s":"DMA","m":"Cd","k":"b","x":3.8,"y":0.5},{"s":"DMA","m":"Cd","k":"b","x":4.2,"y":0.69},{"s":"DMA","m":"Cd","k":"b","x":4.6,"y":0.86},{"s":"DMA","m":"Cd","k":"b","x":5.0,"y":0.92},{"s":"DMA","m":"Cd","k":"b","x":5.4,"y":0.87},{"s":"DMA","m":"Cd","k":"b","x":5.8,"y":0.7},{"s":"DMA","m":"Cd","k":"b","x":6.2,"y":0.45},{"s":"DMA","m":"Cd","k":"b","x":6.5,"y":0.22},{"s":"DMA","m":"Cd","k":"b","x":6.8,"y":0.07},{"s":"DMA","m":"Cd","k":"b","x":7.1,"y":0.01},{"s":"DMA","m":"Cd","k":"b","x":7.4,"y":0},
{"s":"DMA","m":"Cd","k":"c","x":5.8,"y":0},{"s":"DMA","m":"Cd","k":"c","x":6.2,"y":0.04},{"s":"DMA","m":"Cd","k":"c","x":6.5,"y":0.14},{"s":"DMA","m":"Cd","k":"c","x":6.8,"y":0.32},{"s":"DMA","m":"Cd","k":"c","x":7.0,"y":0.47},{"s":"DMA","m":"Cd","k":"c","x":7.3,"y":0.68},{"s":"DMA","m":"Cd","k":"c","x":7.6,"y":0.85},{"s":"DMA","m":"Cd","k":"c","x":7.9,"y":0.95},{"s":"DMA","m":"Cd","k":"c","x":8.3,"y":0.99},{"s":"DMA","m":"Cd","k":"c","x":8.7,"y":1},{"s":"DMA","m":"Cd","k":"c","x":10,"y":1},
{"s":"DMA","m":"Cd","k":"d","x":5.5,"y":0},{"s":"DMA","m":"Cd","k":"d","x":5.9,"y":0.08},{"s":"DMA","m":"Cd","k":"d","x":6.2,"y":0.22},{"s":"DMA","m":"Cd","k":"d","x":6.5,"y":0.34},{"s":"DMA","m":"Cd","k":"d","x":6.8,"y":0.22},{"s":"DMA","m":"Cd","k":"d","x":7.1,"y":0.08},{"s":"DMA","m":"Cd","k":"d","x":7.5,"y":0.01},{"s":"DMA","m":"Cd","k":"d","x":7.8,"y":0},
{"s":"DMA","m":"Cd","k":"e","x":5.8,"y":0},{"s":"DMA","m":"Cd","k":"e","x":6.2,"y":0.08},{"s":"DMA","m":"Cd","k":"e","x":6.5,"y":0.22},{"s":"DMA","m":"Cd","k":"e","x":6.8,"y":0.31},{"s":"DMA","m":"Cd","k":"e","x":7.1,"y":0.2},{"s":"DMA","m":"Cd","k":"e","x":7.4,"y":0.07},{"s":"DMA","m":"Cd","k":"e","x":7.8,"y":0},
{"s":"DMA","m":"Cd","k":"L","x":8.6,"y":0.5}
]},
"spacing":2,
"hconcat":[
{
"title":{"text":"DMF","fontSize":19,"font":"Liberation Serif","fontWeight":"bold","color":"black","anchor":"end","dx":-73,"offset":4},
"transform":[{"filter":"datum.s=='DMF'"}],
"spacing":-1,
"facet":{"row":{"field":"m","type":"nominal","sort":["Be","Mn","Co","Ni","Zn","Cd"],"title":"Mole Fraction","header":{"labels":false,"titleFont":"Liberation Serif","titleFontSize":24,"titleFontWeight":"normal","titleColor":"black","titlePadding":9}}},
"spec":{"width":212,"height":54,
"encoding":{
"x":{"field":"x","type":"quantitative","scale":{"domain":[0,10],"nice":false},"axis":{"values":[0,1,2,3,4,5,6,7,8,9,10],"labelExpr":"datum.value%2==0 ? datum.label : ''","title":"- log([CT]/mol dm\u207b\u00b3)","titleFont":"Liberation Serif","titleFontSize":19,"titleFontWeight":"normal","titleColor":"black","titlePadding":3,"labelFontSize":13,"labelFlush":false,"labelOverlap":false,"tickSize":-3,"labelPadding":5}},
"y":{"field":"y","type":"quantitative","scale":{"domain":[0,1.05],"nice":false},"axis":{"values":[0,0.2,0.4,0.6,0.8],"labelExpr":"(datum.value<0.01||(datum.value>0.39&&datum.value<0.41)||datum.value>0.79) ? format(datum.value,'.1f') : ''","labelOverlap":false,"labelSeparation":-40,"labelBound":false,"labelFlush":false,"title":null,"labelFontSize":11,"tickSize":-3,"labelPadding":6}}
},
"layer":[
{"transform":[{"filter":"datum.k!='L'"}],"mark":{"type":"line","interpolate":"monotone","color":"black","strokeWidth":1.5,"clip":true},
"encoding":{"detail":{"field":"k"}}},
{"transform":[{"filter":"datum.k=='L'"}],"mark":{"type":"text","align":"right","baseline":"middle","font":"Liberation Serif","fontWeight":"bold","fontSize":13,"color":"black"},
"encoding":{"text":{"field":"m"}}},
{"transform":[{"filter":"datum.k=='L'"}],"mark":{"type":"text","align":"left","baseline":"middle","dx":0,"dy":-5,"font":"Liberation Serif","fontWeight":"bold","fontSize":9,"color":"black"},
"encoding":{"text":{"value":"2+"}}}
]}
},
{
"title":{"text":"DMA","fontSize":19,"font":"Liberation Serif","fontWeight":"bold","color":"black","anchor":"middle","offset":4},
"transform":[{"filter":"datum.s=='DMA'"}],
"spacing":-1,
"facet":{"row":{"field":"m","type":"nominal","sort":["Be","Mn","Co","Ni","Zn","Cd"],"title":null,"header":{"labels":false}}},
"spec":{"width":212,"height":54,
"encoding":{
"x":{"field":"x","type":"quantitative","scale":{"domain":[0,10],"nice":false},"axis":{"values":[0,1,2,3,4,5,6,7,8,9,10],"labelExpr":"datum.value%2==0 ? datum.label : ''","title":"- log([CT]/mol dm\u207b\u00b3)","titleFont":"Liberation Serif","titleFontSize":19,"titleFontWeight":"normal","titleColor":"black","titlePadding":3,"labelFontSize":13,"labelFlush":false,"labelOverlap":false,"tickSize":-3,"labelPadding":5}},
"y":{"field":"y","type":"quantitative","scale":{"domain":[0,1.05],"nice":false},"axis":{"values":[0,0.2,0.4,0.6,0.8],"labels":false,"title":null,"tickSize":-3}}
},
"layer":[
{"transform":[{"filter":"datum.k!='L'"}],"mark":{"type":"line","interpolate":"monotone","color":"black","strokeWidth":1.5,"clip":true},
"encoding":{"detail":{"field":"k"}}},
{"transform":[{"filter":"datum.k=='L'"}],"mark":{"type":"text","align":"right","baseline":"middle","font":"Liberation Serif","fontWeight":"bold","fontSize":13,"color":"black"},
"encoding":{"text":{"field":"m"}}},
{"transform":[{"filter":"datum.k=='L'"}],"mark":{"type":"text","align":"left","baseline":"middle","dx":0,"dy":-5,"font":"Liberation Serif","fontWeight":"bold","fontSize":9,"color":"black"},
"encoding":{"text":{"value":"2+"}}}
]}
}
],
"config":{
"font":"Liberation Serif",
"view":{"stroke":"black","strokeWidth":1.2},
"axis":{"labelFont":"Liberation Serif","labelFontWeight":"bold","labelColor":"black","tickColor":"black","domain":false,"grid":false,"tickWidth":1,"labelOverlap":false,"labelBound":false}
}
}
